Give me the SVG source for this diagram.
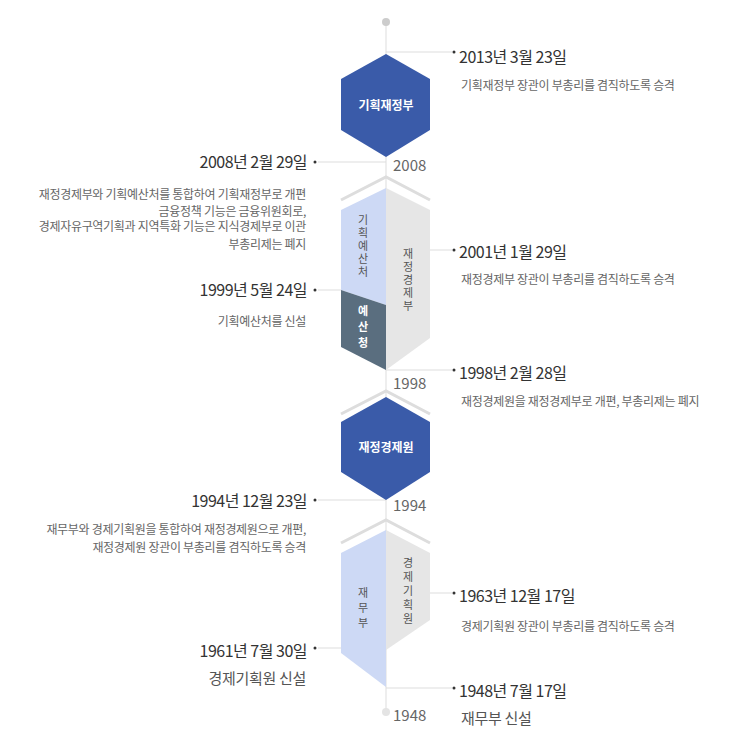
<svg xmlns="http://www.w3.org/2000/svg" width="736" height="748" viewBox="0 0 736 748">
<style>
text{font-family:"Noto Sans CJK KR","Liberation Sans",sans-serif}
.t{font-size:16px;fill:#333;letter-spacing:-0.5px}
.d{font-size:12px;fill:#666;letter-spacing:-0.3px}
.d2{font-size:15px;fill:#555;letter-spacing:-0.3px}
.y{font-size:15px;fill:#666}
.hx{fill:#3a5ba9}
.hl{font-size:12px;font-weight:bold;fill:#fff;text-anchor:middle}
.v{font-size:11px;fill:#555;text-anchor:middle}
.vw{font-size:11px;fill:#fff;font-weight:bold;text-anchor:middle}
.ln{stroke:#ddd;stroke-width:1;fill:none}
.ch{stroke:#ddd;stroke-width:3;fill:none}
.dot{fill:#333}
.r{text-anchor:end}
</style>
<g id="connectors">
<line class="ln" x1="386" y1="22" x2="386" y2="712"/>
<line class="ln" x1="386" y1="52" x2="452" y2="52"/>
<line class="ln" x1="386" y1="250" x2="452" y2="250"/>
<line class="ln" x1="386" y1="370" x2="452" y2="370"/>
<line class="ln" x1="386" y1="593" x2="452" y2="593"/>
<line class="ln" x1="386" y1="688" x2="452" y2="688"/>
<line class="ln" x1="318" y1="162" x2="386" y2="162"/>
<line class="ln" x1="318" y1="290" x2="386" y2="290"/>
<line class="ln" x1="318" y1="500" x2="386" y2="500"/>
<line class="ln" x1="318" y1="648" x2="386" y2="648"/>
<polyline class="ch" points="341,200 386,177 430,200"/>
<polyline class="ch" points="341,414 386,391 430,414"/>
<polyline class="ch" points="341,543 386,520 430,543"/>
<circle cx="386" cy="22" r="4" fill="#ccc"/>
<circle cx="386" cy="712" r="4" fill="#e4e4e4"/>
</g>
<g id="n-mosf">
<polygon class="hx" points="386,54 430,79 430,130 386,157 341,130 341,79"/>
<text class="hl" x="386" y="110">기획재정부</text>
<text class="y" x="393" y="171">2008</text>
</g>
<g id="n-mope">
<polygon fill="#e6e6e6" points="386,188 430,210 430,338 386,370"/>
<text class="v" x="408" y="258">재</text><text class="v" x="408" y="271">정</text><text class="v" x="408" y="284">경</text><text class="v" x="408" y="297">제</text><text class="v" x="408" y="310">부</text>
<text class="y" x="393" y="389">1998</text>
</g>
<g id="n-mpb">
<polygon fill="#cdd9f5" points="386,188 341,210 341,290 386,305"/>
<text class="v" x="363" y="224">기</text><text class="v" x="363" y="237">획</text><text class="v" x="363" y="250">예</text><text class="v" x="363" y="263">산</text><text class="v" x="363" y="276">처</text>
</g>
<g id="n-budget">
<polygon fill="#5a6e7f" points="341,290 386,305 386,370 341,347"/>
<text class="vw" x="363" y="315">예</text><text class="vw" x="363" y="331">산</text><text class="vw" x="363" y="347">청</text>
</g>
<g id="n-mofe">
<polygon class="hx" points="386,397 430,422 430,472 386,500 341,472 341,422"/>
<text class="hl" x="386" y="452">재정경제원</text>
<text class="y" x="393" y="511">1994</text>
</g>
<g id="n-epb">
<polygon fill="#e6e6e6" points="386,530 430,553 430,620 386,650"/>
<text class="v" x="408" y="567">경</text><text class="v" x="408" y="581">제</text><text class="v" x="408" y="595">기</text><text class="v" x="408" y="609">획</text><text class="v" x="408" y="623">원</text>
</g>
<g id="n-mof">
<polygon fill="#cdd9f5" points="386,530 341,553 341,653 386,687"/>
<text class="v" x="363" y="597">재</text><text class="v" x="363" y="612">무</text><text class="v" x="363" y="627">부</text>
<text class="y" x="393" y="721">1948</text>
</g>
<g id="e-2013">
<circle class="dot" cx="454" cy="52" r="1.5"/>
<text class="t" x="459" y="63">2013년 3월 23일</text>
<text class="d" x="461" y="90">기획재정부 장관이 부총리를 겸직하도록 승격</text>
</g>
<g id="e-2008">
<circle class="dot" cx="315" cy="162" r="1.5"/>
<text class="t r" x="307" y="168">2008년 2월 29일</text>
<text class="d r" x="306" y="199">재정경제부와 기획예산처를 통합하여 기획재정부로 개편</text>
<text class="d r" x="306" y="216">금융정책 기능은 금융위원회로,</text>
<text class="d r" x="306" y="231">경제자유구역기획과 지역특화 기능은 지식경제부로 이관</text>
<text class="d r" x="306" y="249">부총리제는 폐지</text>
</g>
<g id="e-2001">
<circle class="dot" cx="454" cy="250" r="1.5"/>
<text class="t" x="459" y="258">2001년 1월 29일</text>
<text class="d" x="461" y="284">재정경제부 장관이 부총리를 겸직하도록 승격</text>
</g>
<g id="e-1999">
<circle class="dot" cx="315" cy="290" r="1.5"/>
<text class="t r" x="307" y="296">1999년 5월 24일</text>
<text class="d r" x="306" y="326">기획예산처를 신설</text>
</g>
<g id="e-1998">
<circle class="dot" cx="454" cy="370" r="1.5"/>
<text class="t" x="459" y="379">1998년 2월 28일</text>
<text class="d" x="461" y="406">재정경제원을 재정경제부로 개편, 부총리제는 폐지</text>
</g>
<g id="e-1994">
<circle class="dot" cx="315" cy="500" r="1.5"/>
<text class="t r" x="307" y="507">1994년 12월 23일</text>
<text class="d r" x="306" y="534">재무부와 경제기획원을 통합하여 재정경제원으로 개편,</text>
<text class="d r" x="306" y="552">재정경제원 장관이 부총리를 겸직하도록 승격</text>
</g>
<g id="e-1963">
<circle class="dot" cx="454" cy="593" r="1.5"/>
<text class="t" x="459" y="602">1963년 12월 17일</text>
<text class="d" x="461" y="631">경제기획원 장관이 부총리를 겸직하도록 승격</text>
</g>
<g id="e-1961">
<circle class="dot" cx="315" cy="648" r="1.5"/>
<text class="t r" x="307" y="657">1961년 7월 30일</text>
<text class="d2 r" x="306" y="684">경제기획원 신설</text>
</g>
<g id="e-1948">
<circle class="dot" cx="454" cy="688" r="1.5"/>
<text class="t" x="459" y="697">1948년 7월 17일</text>
<text class="d2" x="461" y="724">재무부 신설</text>
</g>
</svg>
